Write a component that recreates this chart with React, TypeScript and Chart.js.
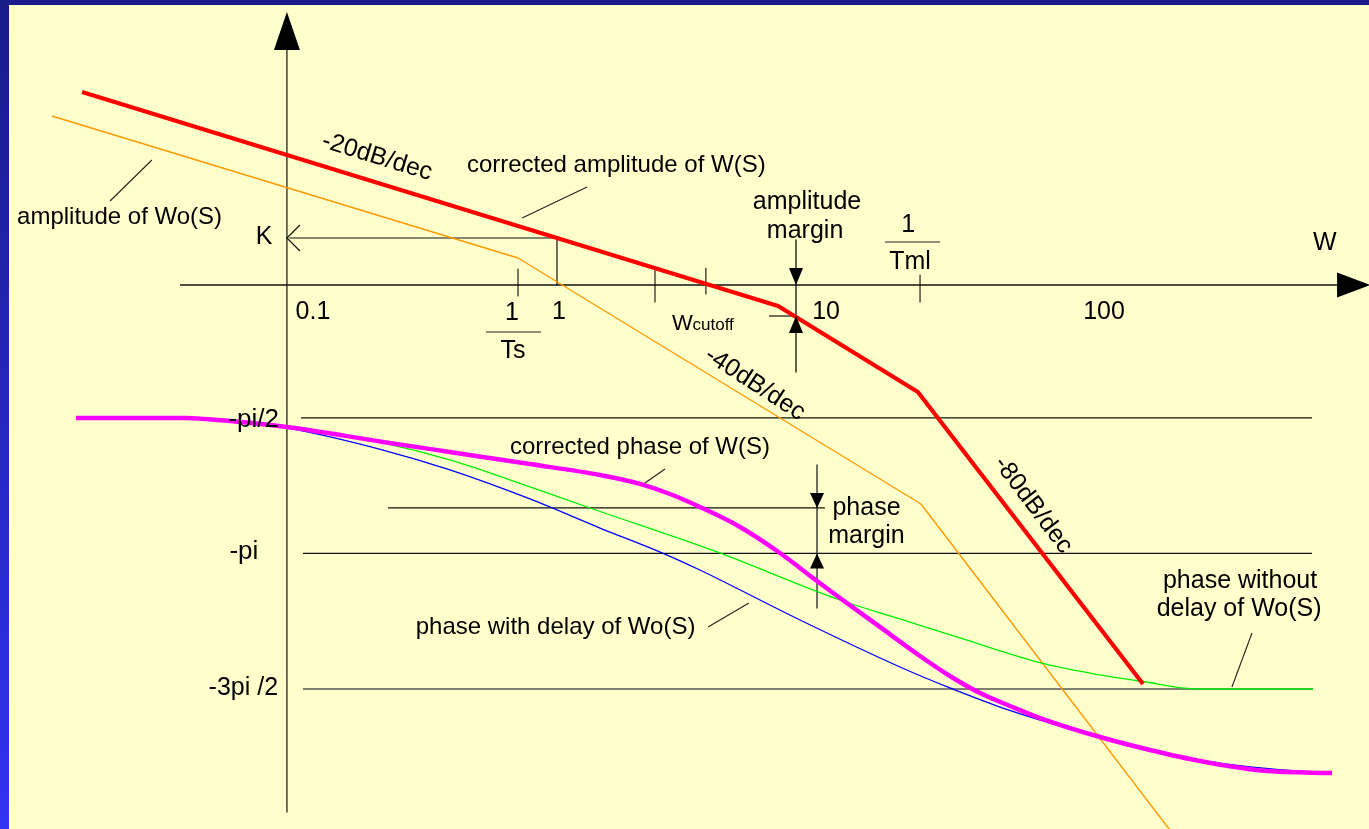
import React, { useEffect, useRef } from "react";
import { Chart, registerables } from "chart.js";

Chart.register(...registerables);

// ---- scale ranges: x = log10(w), y = amplitude (dB), yp = phase (deg) ----
const X_RANGE: [number, number] = [-2.3305, 3.3975];
const DB_RANGE: [number, number] = [-148.03, 77.55];
const PH_RANGE: [number, number] = [-363.0, 187.6];

type Pt = [number, number];

// ---- amplitude curves (log10 w, dB) ----
const ampCorrected: Pt[] = [[-1.987, 52.52], [0, 12.79], [0.925, -5.71], [1.51, -29.12], [2.452, -108.57]];
const ampOriginal: Pt[] = [[-2.113, 45.99], [-0.163, 7.35], [1.523, -59.59], [2.59, -150.5]];

// ---- phase curves (log10 w, degrees) ----
const phaseDelay: Pt[] = [
  [-1.556, -90], [-1.368, -91.3], [-1.13, -96.6], [-0.728, -111.3], [-0.448, -124.5], [-0.113, -143.8],
  [0.18, -163.1], [0.444, -179.9], [0.598, -191.0], [1.017, -224.2], [1.435, -255.4], [1.644, -269.3],
  [1.854, -282.0], [2.063, -292.6], [2.272, -301.9], [2.481, -310.5], [2.69, -317.2], [2.9, -321.8],
  [3.109, -324.5], [3.234, -325.1],
];
const phaseNoDelay: Pt[] = [
  [-1.494, -90], [-1.13, -95.3], [-0.728, -106.6], [-0.448, -117.9], [-0.113, -135.8], [0.138, -149.8],
  [0.669, -179.0], [1.184, -210.9], [1.435, -223.5], [1.686, -236.1], [2.042, -253.4], [2.272, -260.7],
  [2.439, -264.7], [2.682, -270], [3.163, -270],
];
const phaseCorrected: Pt[] = [
  [-2.013, -90], [-1.556, -90], [-1.473, -90.7], [-1.13, -96.0], [-0.728, -105.9], [-0.448, -112.6],
  [-0.113, -120.6], [0.18, -127.9], [0.347, -133.8], [0.473, -140.5], [0.598, -149.1], [0.766, -162.4],
  [0.933, -179.7], [1.088, -198.3], [1.184, -209.6], [1.351, -228.8], [1.519, -248.1], [1.644, -261.4],
  [1.77, -272.7], [1.895, -281.3], [2.021, -289.3], [2.272, -301.9], [2.481, -310.5], [2.69, -317.8],
  [2.971, -324.5], [3.243, -325.8],
];

// ---- axes & construction lines (amplitude units) ----
const wAxis: Pt[] = [[-1.577, 0], [3.27, 0]];
const vAxis: Pt[] = [[-1.13, 64.0], [-1.13, -143.4]];
const kLine: Pt[] = [[-1.12, 12.79], [0, 12.79], [0, 0]];
const ticks: [number, number, number][] = [
  [-0.163, 4.35, -2.99],
  [0.41, 4.63, -4.63],
  [0.623, 4.63, -2.45],
  [1.519, 2.72, -4.63],
];
const ampMarginLine: Pt[] = [[1.0, 12.24], [1.0, -23.67]];
const ampMarginTick: Pt[] = [[0.887, -8.44], [1.0, -8.44]];
const fracTs: Pt[] = [[-0.297, -12.79], [-0.067, -12.79]];
const fracTml: Pt[] = [[1.372, 11.7], [1.603, 11.7]];
const leaderAmpOrig: Pt[] = [[-1.695, 34.01], [-1.87, 22.86]];
const leaderAmpCorr: Pt[] = [[0.126, 26.67], [-0.146, 18.23]];

// ---- phase reference lines (phase units) ----
const phaseRefs: [number, number, number][] = [
  [-90, -1.071, 3.159],
  [-180, -1.063, 3.159],
];
const phase270: Pt[] = [[-1.063, -270], [3.163, -270]];
const phaseMarginLine: Pt[] = [[-0.707, -149.78], [1.121, -149.78]];
const phaseMarginVert: Pt[] = [[1.088, -121.2], [1.088, -216.2]];
const leaderPhCorr: Pt[] = [[0.452, -123.9], [0.356, -134.5]];
const leaderPhDelay: Pt[] = [[0.632, -228.8], [0.803, -212.9]];
const leaderPhNoDelay: Pt[] = [[2.908, -232.8], [2.824, -268.7]];

// ---- arrowheads: [x, y, axis, direction, length, halfWidth, open] ----
type Arrow = [number, number, string, string, number, number, boolean];
const arrows: Arrow[] = [
  [-1.13, 74.29, "y", "up", 38, 13, false],
  [3.402, 0, "y", "right", 33, 12.5, false],
  [1.0, 0, "y", "down", 17, 7, false],
  [1.0, -8.44, "y", "up", 17, 7, false],
  [1.088, -149.78, "yp", "down", 15, 7, false],
  [1.088, -180, "yp", "up", 15, 7, false],
  [-1.13, 12.79, "y", "left", 13, 13, true],
];

// ---- text labels ----
type Label = { t: string; x: number; y: number; ax?: string; align?: CanvasTextAlign; rot?: number; size?: number; base?: CanvasTextBaseline };
const labels: Label[] = [
  { t: "-20dB/dec", x: -0.753, y: 34.83, rot: 17 },
  { t: "corrected amplitude of W(S)", x: -0.377, y: 32.65, align: "left", size: 24 },
  { t: "amplitude of Wo(S)", x: -2.259, y: 18.5, align: "left", size: 24 },
  { t: "K", x: -1.226, y: 13.06 },
  { t: "amplitude", x: 1.046, y: 22.59 },
  { t: "margin", x: 1.038, y: 14.69 },
  { t: "1", x: 1.469, y: 16.33 },
  { t: "Tml", x: 1.477, y: 6.26 },
  { t: "W", x: 3.213, y: 11.43 },
  { t: "0.1", x: -1.021, y: -7.35 },
  { t: "1", x: 0.008, y: -7.35 },
  { t: "10", x: 1.126, y: -7.35 },
  { t: "100", x: 2.289, y: -7.35 },
  { t: "1", x: -0.188, y: -7.62 },
  { t: "Ts", x: -0.184, y: -17.96 },
  { t: "W", x: 0.481, y: -12.24, align: "left", size: 22, base: "alphabetic" },
  { t: "cutoff", x: 0.567, y: -12.24, align: "left", size: 17, base: "alphabetic" },
  { t: "-40dB/dec", x: 0.828, y: -26.94, rot: 33 },
  { t: "-80dB/dec", x: 1.992, y: -59.86, rot: 53 },
  { t: "-pi/2", x: -1.163, y: -91.3, ax: "yp", align: "right", size: 26 },
  { t: "-pi", x: -1.31, y: -179.0, ax: "yp", size: 26 },
  { t: "-3pi /2", x: -1.167, y: -269.3, ax: "yp", align: "right" },
  { t: "corrected phase of W(S)", x: -0.197, y: -109.26, ax: "yp", align: "left", size: 24 },
  { t: "phase", x: 1.295, y: -149.78, ax: "yp" },
  { t: "margin", x: 1.295, y: -168.37, ax: "yp" },
  { t: "phase with delay of Wo(S)", x: -0.006, y: -228.82, ax: "yp", size: 24 },
  { t: "phase without", x: 2.858, y: -198.26, ax: "yp" },
  { t: "delay of Wo(S)", x: 2.854, y: -216.86, ax: "yp" },
];

const FONT = '"Liberation Sans", Arial, Helvetica, sans-serif';
const toXY = (pts: Pt[]) => pts.map(([x, y]) => ({ x, y }));

function ds(pts: Pt[], axis: string, color: string, width: number, order: number, extra: any = {}) {
  return {
    data: toXY(pts),
    yAxisID: axis,
    borderColor: color,
    backgroundColor: color,
    borderWidth: width,
    showLine: true,
    pointRadius: 0,
    pointHoverRadius: 0,
    fill: false,
    tension: 0,
    order,
    borderJoinStyle: "round",
    ...extra,
  };
}

const backgroundPlugin = {
  id: "bg",
  beforeDraw(chart: any) {
    const { ctx, width, height } = chart;
    ctx.save();
    ctx.fillStyle = "#FFFFCC";
    ctx.fillRect(0, 0, width, height);
    const g = ctx.createLinearGradient(0, 0, 0, height);
    g.addColorStop(0, "#1a1a8a");
    g.addColorStop(1, "#3232f2");
    ctx.fillStyle = g;
    ctx.fillRect(0, 0, 9, height);
    ctx.fillStyle = "#1a1a8a";
    ctx.fillRect(0, 0, width, 5);
    ctx.restore();
  },
};

const annotationPlugin = {
  id: "annot",
  afterDatasetsDraw(chart: any) {
    const { ctx } = chart;
    const xs = chart.scales.x;
    ctx.save();
    for (const [x, y, ax, dir, len, half, open] of arrows) {
      const px = xs.getPixelForValue(x);
      const py = chart.scales[ax].getPixelForValue(y);
      let p1: [number, number], p2: [number, number];
      if (dir === "up") { p1 = [px - half, py + len]; p2 = [px + half, py + len]; }
      else if (dir === "down") { p1 = [px - half, py - len]; p2 = [px + half, py - len]; }
      else if (dir === "right") { p1 = [px - len, py - half]; p2 = [px - len, py + half]; }
      else { p1 = [px + len, py - half]; p2 = [px + len, py + half]; }
      ctx.beginPath();
      if (open) {
        ctx.moveTo(p1[0], p1[1]);
        ctx.lineTo(px, py);
        ctx.lineTo(p2[0], p2[1]);
        ctx.strokeStyle = "#111";
        ctx.lineWidth = 1.2;
        ctx.stroke();
      } else {
        ctx.moveTo(px, py);
        ctx.lineTo(p1[0], p1[1]);
        ctx.lineTo(p2[0], p2[1]);
        ctx.closePath();
        ctx.fillStyle = "#000";
        ctx.fill();
      }
    }
    for (const lab of labels) {
      const px = xs.getPixelForValue(lab.x);
      const py = chart.scales[lab.ax || "y"].getPixelForValue(lab.y);
      ctx.save();
      ctx.translate(px, py);
      if (lab.rot) ctx.rotate((lab.rot * Math.PI) / 180);
      ctx.font = `${lab.size || 25}px ${FONT}`;
      ctx.textAlign = lab.align || "center";
      ctx.textBaseline = lab.base || "middle";
      ctx.fillStyle = "#000";
      ctx.fillText(lab.t, 0, 0);
      ctx.restore();
    }
    ctx.restore();
  },
};

export default function App() {
  const ref = useRef<HTMLCanvasElement>(null);

  useEffect(() => {
    document.body.style.margin = "0";
    const black = "#111";
    const datasets: any[] = [
      ds(wAxis, "y", black, 1.4, 20),
      ds(vAxis, "y", "#333", 1.4, 20),
      ds(kLine, "y", black, 1.2, 20),
      ...ticks.map(([x, a, b]) => ds([[x, a], [x, b]], "y", "#222", 1.2, 20)),
      ds(ampMarginLine, "y", black, 1.3, 20),
      ds(ampMarginTick, "y", black, 1.2, 20),
      ds(fracTs, "y", "#222", 1.2, 20),
      ds(fracTml, "y", "#222", 1.2, 20),
      ds(leaderAmpOrig, "y", "#222", 1.1, 20),
      ds(leaderAmpCorr, "y", "#222", 1.1, 20),
      ...phaseRefs.map(([v, a, b]) => ds([[a, v], [b, v]], "yp", black, 1.3, 20)),
      ds(phase270, "yp", "#555", 1.5, 20),
      ds(phaseMarginLine, "yp", black, 1.2, 20),
      ds(phaseMarginVert, "yp", "#333", 1.4, 20),
      ds(leaderPhCorr, "yp", "#222", 1.1, 20),
      ds(leaderPhDelay, "yp", "#222", 1.1, 20),
      ds(leaderPhNoDelay, "yp", "#222", 1.1, 20),
      ds(ampOriginal, "y", "#ff9900", 1.4, 5),
      ds(phaseNoDelay, "yp", "#00ee00", 1.3, 4, { cubicInterpolationMode: "monotone" }),
      ds(phaseDelay, "yp", "#0000ff", 1.3, 3, { cubicInterpolationMode: "monotone" }),
      ds(phaseCorrected, "yp", "#ff00ff", 4.5, 2, { cubicInterpolationMode: "monotone" }),
      ds(ampCorrected, "y", "#ff0000", 4.2, 1),
    ];

    const chart = new Chart(ref.current as HTMLCanvasElement, {
      type: "scatter",
      data: { datasets },
      options: {
        responsive: false,
        animation: false,
        devicePixelRatio: 1,
        events: [],
        layout: { padding: 0 },
        plugins: { legend: { display: false }, tooltip: { enabled: false }, title: { display: false } },
        scales: {
          x: { type: "linear", min: X_RANGE[0], max: X_RANGE[1], display: false },
          y: { type: "linear", min: DB_RANGE[0], max: DB_RANGE[1], display: false },
          yp: { type: "linear", min: PH_RANGE[0], max: PH_RANGE[1], display: false },
        },
      } as any,
      plugins: [backgroundPlugin, annotationPlugin],
    });
    return () => chart.destroy();
  }, []);

  return <canvas ref={ref} width={1369} height={829} style={{ display: "block", width: 1369, height: 829 }} />;
}
